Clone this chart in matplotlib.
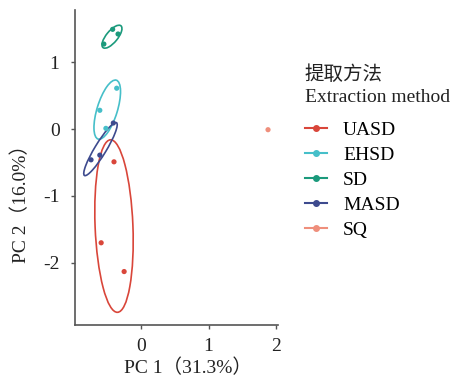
import matplotlib.pyplot as plt
from matplotlib.patches import Ellipse
from matplotlib.lines import Line2D

plt.rcParams['font.family'] = ['Liberation Serif', 'Noto Sans CJK SC']
plt.rcParams['axes.unicode_minus'] = False

# PCA scores per extraction method
groups = ['UASD', 'EHSD', 'SD', 'MASD', 'SQ']
colors = ['#d9463a', '#46bfc9', '#1b9a7c', '#3d4a8e', '#ef8f7c']

pc1 = {
    'UASD': [-0.40, -0.59, -0.25],
    'EHSD': [-0.36, -0.61, -0.52],
    'SD': [-0.42, -0.34, -0.55],
    'MASD': [-0.41, -0.61, -0.74],
    'SQ': [1.88],
}
pc2 = {
    'UASD': [-0.49, -1.70, -2.13],
    'EHSD': [0.61, 0.28, 0.01],
    'SD': [1.49, 1.42, 1.27],
    'MASD': [0.09, -0.39, -0.46],
    'SQ': [-0.01],
}

# confidence ellipses: centre x, centre y, width, height, angle
ell_cx = [-0.40, -0.50, -0.43, -0.60, None]
ell_cy = [-1.45, 0.29, 1.38, -0.30, None]
ell_w = [0.56, 0.30, 0.17, 0.17, None]
ell_h = [2.58, 0.92, 0.42, 0.92, None]
ell_ang = [2.3, -17, -39, -31, None]

fig = plt.figure(figsize=(4.59, 3.82), dpi=100)
ax = fig.add_axes([0.163, 0.149, 0.443, 0.825])

for i, g in enumerate(groups):
    ax.scatter(pc1[g], pc2[g], s=14, color=colors[i], zorder=3, edgecolors='none')
    if ell_cx[i] is not None:
        e = Ellipse((ell_cx[i], ell_cy[i]), ell_w[i], ell_h[i], angle=ell_ang[i],
                    fill=False, edgecolor=colors[i], linewidth=1.2, zorder=2)
        ax.add_patch(e)

ax.set_xlim(-0.98, 2.03)
ax.set_ylim(-2.93, 1.78)
ax.set_xticks([0, 1, 2])
ax.set_yticks([-2, -1, 0, 1])
ax.spines['top'].set_visible(False)
ax.spines['right'].set_visible(False)
for s in ['left', 'bottom']:
    ax.spines[s].set_color('#555555')
    ax.spines[s].set_linewidth(1.2)
ax.tick_params(colors='#555555', labelcolor='#222222', labelsize=14, length=3, width=1)
ax.tick_params(axis='x', pad=6)
ax.tick_params(axis='y', pad=8)
ax.set_xlabel('PC 1（31.3%）', fontsize=14, color='#222222')
ax.set_ylabel('PC 2（16.0%）', fontsize=14, color='#222222')
ax.xaxis.set_label_coords(0.557, -0.108)
ax.yaxis.set_label_coords(-0.222, 0.40)

# legend title drawn as two lines of figure text
fig.text(0.664, 0.804, '提取方法', fontsize=14, color='#222222', va='center')
fig.text(0.664, 0.746, 'Extraction method', fontsize=14, color='#222222', va='center')

handles = [Line2D([0], [0], color=c, marker='o', markersize=4, linewidth=1.5) for c in colors]
fig.legend(handles, groups, loc='upper left', bbox_to_anchor=(0.664, 0.683),
           frameon=False, fontsize=14, handlelength=1.15, handletextpad=0.82,
           labelspacing=0.38, borderpad=0, borderaxespad=0)

fig.savefig('out.png', dpi=100)
